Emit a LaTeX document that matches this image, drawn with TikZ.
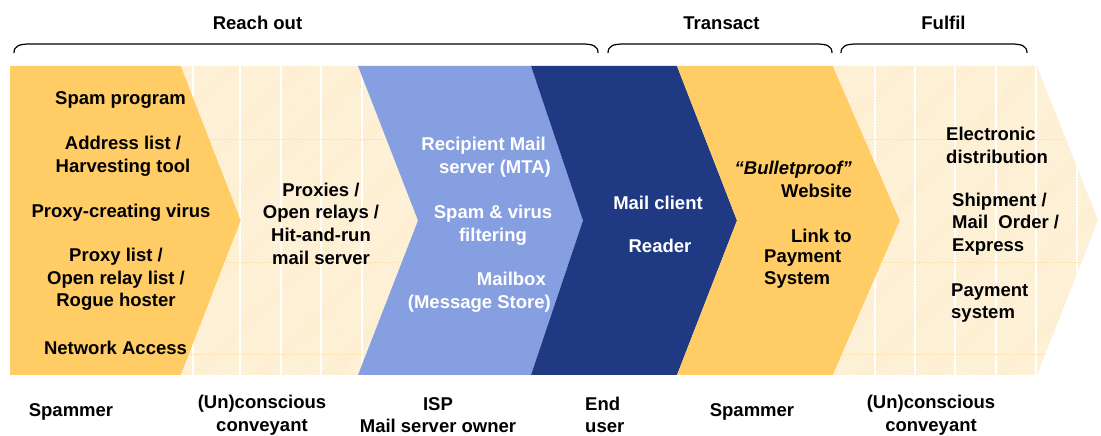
\documentclass[tikz,border=0pt]{standalone}
\usepackage{fontspec}
\setmainfont{Liberation Sans}
\usetikzlibrary{patterns}

\definecolor{amber}{HTML}{FFCC66}
\definecolor{sky}{HTML}{869FE0}
\definecolor{navy}{HTML}{1F3A82}
\definecolor{cream}{HTML}{FFF6E3}
\definecolor{hatchline}{HTML}{FBE2B2}
\definecolor{seam}{HTML}{FFE8B8}

% outlines of the two textured (hatched) stages
\newcommand\relayShape{(181,66) -- (358,66) -- (418,220.5) -- (358,375) -- (181,375) -- (241,220.5) -- cycle}
\newcommand\fulfilShape{(833,66) -- (1037,66) -- (1098,220.5) -- (1037,375) -- (833,375) -- (900,220.5) -- cycle}

\tikzset{
  txt/.style={font=\bfseries\fontsize{18.5bp}{22.7bp}\selectfont, inner sep=0pt, align=center},
  dark/.style={txt, text=black},
  light/.style={txt, text=white},
  bracket/.style={line width=1.2bp, draw=black},
  texture/.style={pattern=north east lines, pattern color=hatchline},
  seamv/.style={draw=white, line width=1.2bp},
  seamh/.style={draw=seam, line width=1bp},
}

\begin{document}
\begin{tikzpicture}[x=1bp, y=-1bp]
\useasboundingbox (0,0) rectangle (1101,436);

% ---- phase labels and brackets ----
\node[dark] (reach)    at (257.5,23) {Reach out};
\node[dark] (transact) at (721.5,23) {Transact};
\node[dark] (fulfil)   at (943.5,23) {Fulfil};
\foreach \a/\b in {14/598, 608/832, 841/1027}
  \draw[bracket] (\a,53) .. controls (\a,46) and (\a+5,44) .. (\a+16,44)
     -- (\b-16,44) .. controls (\b-5,44) and (\b,46) .. (\b,53);

% ---- value chain ----
\fill[amber] (10,66) -- (181,66) -- (241,220.5) -- (181,375) -- (10,375) -- cycle;
\fill[cream] \relayShape;
\fill[texture] \relayShape;
\begin{scope}
  \clip \relayShape;
  \foreach \x in {193,240,281,321,362} \draw[seamv] (\x,66) -- (\x,375);
  \foreach \y in {140,263,355} \draw[seamh] (181,\y) -- (420,\y);
\end{scope}
\fill[sky]  (358,66) -- (531,66) -- (583,220.5) -- (531,375) -- (358,375) -- (418,220.5) -- cycle;
\fill[navy] (531,66) -- (677,66) -- (737,220.5) -- (677,375) -- (531,375) -- (583,220.5) -- cycle;
\fill[amber] (677,66) -- (833,66) -- (900,220.5) -- (833,375) -- (677,375) -- (737,220.5) -- cycle;
\fill[cream] \fulfilShape;
\fill[texture] \fulfilShape;
\begin{scope}
  \clip \fulfilShape;
  \foreach \x in {875,915,955,996,1036,1077} \draw[seamv] (\x,66) -- (\x,375);
  \foreach \y in {140,263,355} \draw[seamh] (833,\y) -- (1100,\y);
\end{scope}

\begin{scope}[yshift=-2.5bp]
% ---- spammer stage ----
\node[dark] (spamprog) at (120.5,98)  {Spam program};
\node[dark] (addr)     at (123,153.5) {Address list /\\Harvesting tool};
\node[dark] (virus)    at (121,210)   {Proxy-creating virus};
\node[dark] (proxies)  at (116,277)   {Proxy list /\\Open relay list /\\Rogue hoster};
\node[dark] (netacc)   at (115.5,345) {Network Access};

% ---- conveyant stage ----
\node[dark] (relays) at (321,221) {Proxies /\\Open relays /\\Hit-and-run\\mail server};

% ---- ISP stage ----
\node[light, align=right, anchor=east] (mta)  at (551,154.5) {Recipient Mail\kern5bp\\server (MTA)};
\node[light] (filter) at (493,222.5) {Spam \& virus\\filtering};
\node[light, align=right, anchor=east] (mbox) at (551,289.5) {Mailbox\kern5bp\\(Message Store)};

% ---- end user stage ----
\node[light] (client) at (658,200) {Mail client};
\node[light] (reader) at (660,243) {Reader};

% ---- transact stage ----
\node[dark, align=right, anchor=east] (site) at (852,177) {\textit{“Bulletproof”}\\Website};
\node[dark, anchor=east] (link) at (852,233) {Link to};
\node[dark, align=left, anchor=west] (paysys) at (764,266.5) {Payment\\System};

% ---- fulfilment stage ----
\node[dark, align=left, anchor=west] (edist) at (946,143)   {Electronic\\distribution};
\node[dark, align=left, anchor=west] (ship)  at (952,221.5) {Shipment /\\Mail\ \ Order /\\Express};
\node[dark, align=left, anchor=west] (pay)   at (951,300.5) {Payment\\system};
\end{scope}

% ---- actors ----
\node[dark] (actor1) at (71,412)  {Spammer};
\node[dark] (actor2) at (262,415) {(Un)conscious\\conveyant};
\node[dark] (actor3) at (438,415) {ISP\\Mail server owner};
\node[dark, align=left, anchor=west] (actor4) at (585,415) {End\\user};
\node[dark] (actor5) at (752,412) {Spammer};
\node[dark] (actor6) at (931,415) {(Un)conscious\\conveyant};
\end{tikzpicture}
\end{document}
